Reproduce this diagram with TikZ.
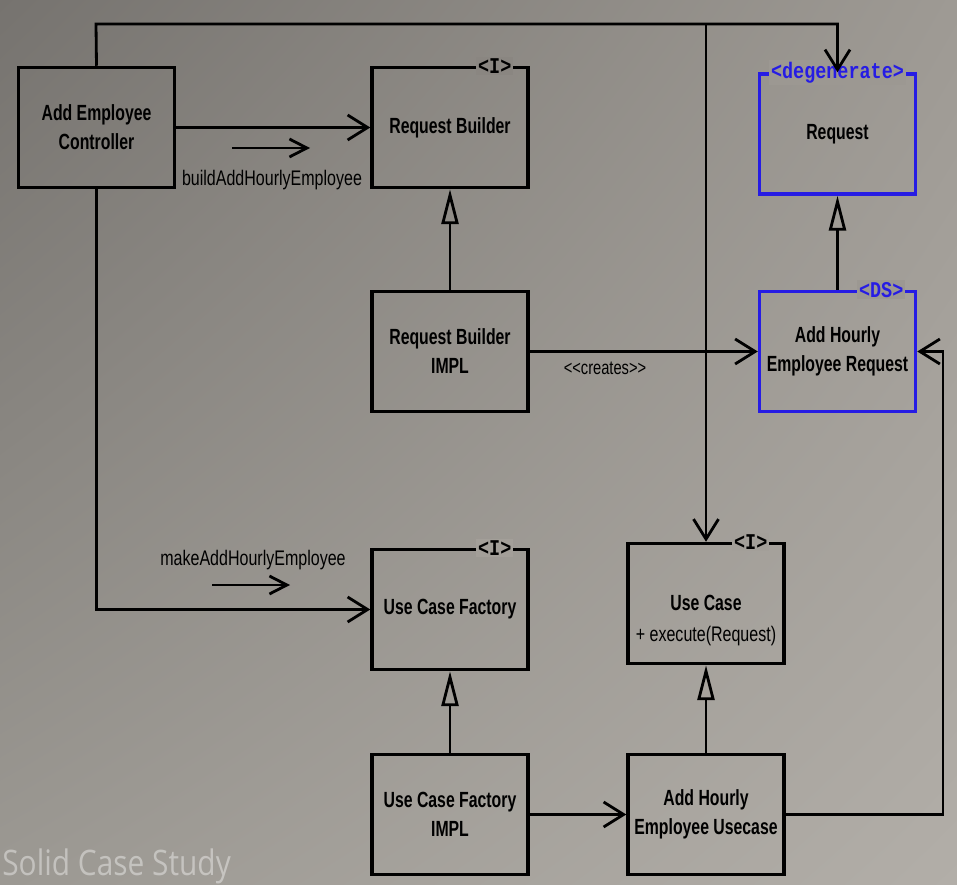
\documentclass[tikz,border=0pt]{standalone}
\usepackage{fontspec}
\setmainfont{Liberation Sans}
\newfontfamily\boxfont{Liberation Sans}[FakeStretch=0.72]
\newfontfamily\msgfont{Liberation Sans}[FakeStretch=0.76]
\newfontfamily\tagfont{Liberation Mono}[FakeStretch=0.82]
\newfontfamily\markfont{Open Sans}[FakeStretch=0.85]
\usepackage{xcolor}
\usepackage{tikz}
\usetikzlibrary{calc, positioning, arrows.meta, shadings}
\definecolor{umlblue}{RGB}{38,28,228}
\definecolor{bgtl}{RGB}{118,115,111}
\definecolor{bgtr}{RGB}{158,154,148}
\definecolor{bgbl}{RGB}{156,153,147}
\definecolor{bgbr}{RGB}{178,174,168}
\definecolor{bgtop}{RGB}{138,134,129}
\definecolor{bgright}{RGB}{156,152,146}
\definecolor{bgmid}{RGB}{163,159,153}
\tikzset{
    cls/.style={rectangle, draw=black, line width=2pt, minimum width=3.12cm, minimum height=2.4cm, align=center, font=\boxfont\bfseries\fontsize{12.5}{16.5}\selectfont},
    dscls/.style={cls, draw=umlblue},
    tag/.style={font=\tagfont\bfseries\fontsize{12.8}{13}\selectfont, inner sep=1pt, fill=#1},
    msg/.style={font=\msgfont\fontsize{12}{14}\selectfont, inner sep=1pt},
    assoc/.style={-{Straight Barb[length=4mm, width=5mm]}, line width=1.6pt},
    inherit/.style={-{Triangle[open, length=7mm, width=3.4mm]}, line width=1.6pt},
    callarrow/.style={-{Straight Barb[length=3.5mm, width=3.6mm]}, line width=1.6pt}
}

\begin{document}
\begin{tikzpicture}[x=0.02cm, y=-0.02cm]
    % Background
    \shade[upper left=bgtl, upper right=bgtr, lower left=bgbl, lower right=bgbr] (0,0) rectangle (957,885);
    \useasboundingbox (0,0) rectangle (957,885);

    % Classes
    \node[cls] (ctrl) at (96.5,127.5) {Add Employee\\Controller};
    \node[cls] (rb) at (450,127.5) {Request Builder};
    \node[cls] (rbimpl) at (450,351.5) {Request Builder\\IMPL};
    \node[dscls] (req) at (837.5,134) {Request};
    \node[dscls] (ahreq) at (837.5,351.5) {Add Hourly\\Employee Request};
    \node[cls] (ucf) at (450,609.5) {Use Case Factory};
    \node[cls] (uc) at (706,603.5) {};
    \node[align=center, font=\boxfont\bfseries\fontsize{12.5}{16.5}\selectfont] (uctext) at ($(uc.center)+(0,17)$) {Use Case\\[1pt]{\msgfont\mdseries\fontsize{12}{14}\selectfont + execute(Request)}};
    \node[cls] (ucfimpl) at (450,814.5) {Use Case Factory\\IMPL};
    \node[cls] (ahuc) at (706,814.5) {Add Hourly\\Employee Usecase};

    % Stereotypes
    \node[tag=bgtop] (rbtag) at ($(rb.north east)+(-35,0)$) {<I>};
    \node[tag=bgright, text=umlblue] (reqtag) at (req.north) {<degenerate>};
    \node[tag=bgright, text=umlblue] (ahreqtag) at ($(ahreq.north east)+(-36,0)$) {<DS>};
    \node[tag=bgmid] (uctag) at ($(uc.north east)+(-35,0)$) {<I>};
    \node[tag=bgmid] (ucftag) at ($(ucf.north east)+(-35,0)$) {<I>};

    % Connectors
    \coordinate (bus) at (96,24);
    \draw[assoc] (ctrl.north) -- (bus) -| (req.north);
    \draw[assoc] (uc.north |- bus) -- (uc.north);
    \draw[assoc] (ctrl.east) -- (rb.west);
    \draw[assoc] (ctrl.south) |- (ucf.west);
    \draw[inherit] (rbimpl) -- (rb);
    \draw[assoc] (rbimpl) -- (ahreq);
    \draw[inherit] (ahreq) -- (req);
    \draw[inherit] (ucfimpl) -- (ucf);
    \draw[inherit] (ahuc) -- (uc);
    \draw[assoc] (ucfimpl) -- (ahuc);
    \coordinate (rbus) at (943,814.5);
    \draw[assoc] (ahuc.east) -- (rbus) |- (ahreq.east);

    % Messages
    \node[msg] (buildmsg) at (272,180) {buildAddHourlyEmployee};
    \coordinate (buildfrom) at (232,148);
    \coordinate (buildto) at (310,148);
    \draw[callarrow] (buildfrom) -- (buildto);
    \node[msg] (makemsg) at (253,560) {makeAddHourlyEmployee};
    \coordinate (makefrom) at (212,585);
    \coordinate (maketo) at (290,585);
    \draw[callarrow] (makefrom) -- (maketo);
    \node[msg, font=\msgfont\fontsize{11}{13}\selectfont] (creates) at (605,368) {<<creates>>};

    % Watermark
    \node[font=\markfont\fontsize{20}{21}\selectfont, text=white, opacity=0.4, anchor=base west, inner sep=0pt] (mark) at (2,875) {Solid Case Study};
\end{tikzpicture}
\end{document}
